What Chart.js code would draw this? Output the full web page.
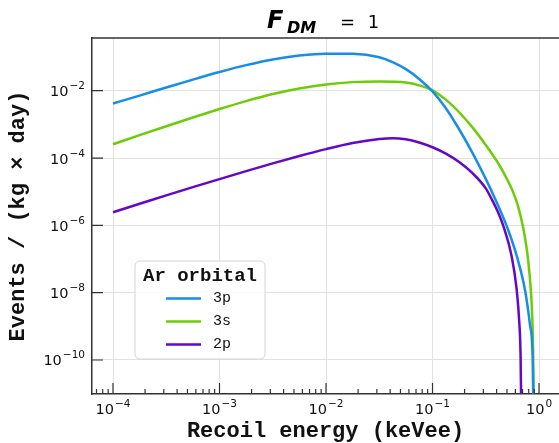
<!DOCTYPE html>
<html>
<head>
<meta charset="utf-8">
<script src="https://cdn.jsdelivr.net/npm/chart.js@4"></script>
<style>
  body { margin: 0; background: #fff; }
  canvas { display: block; }
</style>
</head>
<body>
<canvas id="rateChart" width="559" height="443"></canvas>
<script>
// Taxa de eventos por orbital do argônio (F_DM = 1)
const E_3P = [1e-4, 1.778e-4, 3.162e-4, 5.623e-4, 1e-3, 1.778e-3, 3.162e-3, 5.623e-3, 0.01, 0.01778, 0.03162, 0.04217, 0.05623, 0.07499, 0.1, 0.1334, 0.1778, 0.2371, 0.3162, 0.3981, 0.5012, 0.6166, 0.7413, 0.8222, 0.871, 0.8831];
const RATE_3P = [4.169e-3, 7.161e-3, 1.245e-2, 2.138e-2, 3.589e-2, 5.754e-2, 8.511e-2, 0.1109, 0.1259, 0.1245, 9.886e-2, 7.079e-2, 4.365e-2, 2.239e-2, 9.55e-3, 3.020e-3, 7.161e-4, 1.429e-4, 2.399e-5, 5.012e-6, 8.913e-7, 1.259e-7, 1.122e-8, 1.122e-9, 1.259e-10, 6.31e-12];

const E_3S = [1e-4, 1.778e-4, 3.162e-4, 5.623e-4, 1e-3, 1.778e-3, 3.162e-3, 5.623e-3, 0.01, 0.01778, 0.03162, 0.05623, 0.07499, 0.1, 0.1334, 0.1778, 0.2371, 0.3162, 0.4217, 0.5012, 0.5623, 0.631, 0.7079, 0.7586, 0.7943, 0.8318, 0.861, 0.877, 0.8872, 0.8954];
const RATE_3S = [2.570e-4, 4.786e-4, 8.810e-4, 1.603e-3, 2.851e-3, 4.898e-3, 7.943e-3, 1.161e-2, 1.531e-2, 1.799e-2, 1.884e-2, 1.758e-2, 1.445e-2, 1.023e-2, 5.433e-3, 2.291e-3, 8.128e-4, 2.427e-4, 6.310e-5, 2.344e-5, 1.096e-5, 3.981e-6, 8.913e-7, 2.512e-7, 7.943e-8, 1.585e-8, 2.512e-9, 3.162e-10, 3.162e-11, 3.162e-12];

const E_2P = [1e-4, 1.778e-4, 3.162e-4, 5.623e-4, 1e-3, 1.778e-3, 3.162e-3, 5.623e-3, 0.01, 0.01778, 0.03162, 0.04217, 0.05623, 0.07499, 0.1, 0.1334, 0.1778, 0.2371, 0.3162, 0.3631, 0.40, 0.4624, 0.5534, 0.6166, 0.6531, 0.6714, 0.6792];
const RATE_2P = [2.455e-6, 4.365e-6, 7.762e-6, 1.365e-5, 2.371e-5, 4.074e-5, 6.918e-5, 1.148e-4, 1.841e-4, 2.786e-4, 3.673e-4, 3.890e-4, 3.589e-4, 2.884e-4, 2.089e-4, 1.349e-4, 7.586e-5, 3.548e-5, 1.259e-5, 5.623e-6, 3.020e-6, 9.550e-7, 1.202e-7, 1.259e-8, 1.259e-9, 1.259e-10, 6.31e-12];

const ORBITALS = ['3p', '3s', '2p'];
const COLORS = ['#168ee8', '#6dcc08', '#6408c8'];

// Ticks maiores (expoentes de 10)
const X_TICK_EXPS = [-4, -3, -2, -1, 0];
const Y_TICK_EXPS = [-2, -4, -6, -8, -10];

const X_MIN = 6.35e-5, X_MAX = 1.54;
const Y_MIN = 9.77e-12, Y_MAX = 0.368;

const AXIS_COLOR = '#333';
const TEXT_COLOR = '#111';

function toPoints(xs, ys) {
    return xs.map((x, i) => ({ x: x, y: ys[i] }));
}

function makeDataset(i, xs, ys) {
    return {
        label: ORBITALS[i],
        data: toPoints(xs, ys),
        borderColor: COLORS[i],
        borderWidth: 2.5,
        pointRadius: 0,
        fill: false,
        cubicInterpolationMode: 'monotone'
    };
}

// Rótulo 10^n com expoente sobrescrito
function drawPow(ctx, exp, x, y, align) {
    const base = '10';
    const sup = String(exp).replace('-', '\u2212');
    ctx.font = '14.5px "DejaVu Sans"';
    const wb = ctx.measureText(base).width;
    ctx.font = '10.5px "DejaVu Sans"';
    const ws = ctx.measureText(sup).width;
    const total = wb + ws + 1;
    let x0 = align === 'right' ? x - total : x - total / 2;
    ctx.textAlign = 'left';
    ctx.textBaseline = 'alphabetic';
    ctx.font = '14.5px "DejaVu Sans"';
    ctx.fillText(base, x0, y);
    ctx.font = '10.5px "DejaVu Sans"';
    ctx.fillText(sup, x0 + wb + 1, y - 7);
}

// Ticks internos, rótulos, borda superior, título e legenda
const decorPlugin = {
    id: 'decor',
    afterDraw(chart) {
        const ctx = chart.ctx;
        const area = chart.chartArea;
        const xs = chart.scales.x;
        const ys = chart.scales.y;
        ctx.save();

        // borda superior
        ctx.strokeStyle = AXIS_COLOR;
        ctx.lineWidth = 1.5;
        ctx.beginPath();
        ctx.moveTo(area.left, area.top);
        ctx.lineTo(area.right, area.top);
        ctx.stroke();

        // ticks do eixo x
        ctx.lineWidth = 1.2;
        ctx.beginPath();
        X_TICK_EXPS.forEach(e => {
            const px = xs.getPixelForValue(Math.pow(10, e));
            ctx.moveTo(px, area.bottom);
            ctx.lineTo(px, area.bottom - 11);
        });
        for (let d = -5; d <= 0; d++) {
            for (let m = 2; m <= 9; m++) {
                const v = m * Math.pow(10, d);
                if (v < X_MIN || v > X_MAX) continue;
                const px = xs.getPixelForValue(v);
                ctx.moveTo(px, area.bottom);
                ctx.lineTo(px, area.bottom - 5);
            }
        }
        // ticks do eixo y
        Y_TICK_EXPS.forEach(e => {
            const py = ys.getPixelForValue(Math.pow(10, e));
            ctx.moveTo(area.left, py);
            ctx.lineTo(area.left + 11, py);
        });
        ctx.stroke();

        // rótulos dos ticks
        ctx.fillStyle = TEXT_COLOR;
        X_TICK_EXPS.forEach(e => {
            const px = xs.getPixelForValue(Math.pow(10, e));
            drawPow(ctx, e, px, area.bottom + 19.5, 'center');
        });
        Y_TICK_EXPS.forEach(e => {
            const py = ys.getPixelForValue(Math.pow(10, e));
            drawPow(ctx, e, area.left - 7, py + 5.5, 'right');
        });

        // título F_DM = 1
        ctx.fillStyle = '#000';
        ctx.textAlign = 'left';
        ctx.textBaseline = 'alphabetic';
        ctx.font = 'italic bold 24px "DejaVu Sans"';
        ctx.fillText('F', 267, 28);
        ctx.font = 'italic bold 16px "DejaVu Sans"';
        ctx.fillText('DM', 287, 33);
        ctx.font = '18px "DejaVu Sans"';
        ctx.textAlign = 'center';
        ctx.fillText('=', 347.5, 28);
        ctx.fillText('1', 373.5, 28);

        // legenda
        const lx = 135, ly = 261, lw = 130, lh = 98;
        ctx.beginPath();
        ctx.roundRect(lx, ly, lw, lh, 5);
        ctx.fillStyle = 'rgba(255,255,255,0.85)';
        ctx.fill();
        ctx.strokeStyle = '#d4d4d4';
        ctx.lineWidth = 1;
        ctx.stroke();

        ctx.fillStyle = TEXT_COLOR;
        ctx.textAlign = 'center';
        ctx.textBaseline = 'middle';
        ctx.font = 'bold 19px "Liberation Mono"';
        ctx.fillText('Ar orbital', lx + lw / 2, 276);

        ctx.textAlign = 'left';
        ctx.font = '15px "Liberation Mono"';
        chart.data.datasets.forEach((ds, i) => {
            const y = 298.5 + i * 23;
            ctx.strokeStyle = ds.borderColor;
            ctx.lineWidth = 2.5;
            ctx.beginPath();
            ctx.moveTo(166, y);
            ctx.lineTo(201, y);
            ctx.stroke();
            ctx.fillText(ds.label, 213, y);
        });

        ctx.restore();
    }
};

function initializeChart() {
    const ctx = document.getElementById('rateChart').getContext('2d');
    return new Chart(ctx, {
        type: 'line',
        data: {
            datasets: [
                makeDataset(0, E_3P, RATE_3P),
                makeDataset(1, E_3S, RATE_3S),
                makeDataset(2, E_2P, RATE_2P)
            ]
        },
        options: {
            responsive: false,
            animation: false,
            layout: { padding: { top: 38, right: 0, left: 0, bottom: 0 } },
            scales: {
                x: {
                    type: 'logarithmic',
                    min: X_MIN,
                    max: X_MAX,
                    afterBuildTicks: s => {
                        s.ticks = X_TICK_EXPS.map(e => ({ value: Math.pow(10, e) }));
                        s.min = X_MIN;
                        s.max = X_MAX;
                    },
                    afterFit: s => { s.height = 49; },
                    ticks: { display: false },
                    grid: { color: '#e2e2e2', lineWidth: 1, drawTicks: false },
                    border: { color: AXIS_COLOR, width: 1.5 },
                    title: {
                        display: true,
                        text: 'Recoil energy (keVee)',
                        color: TEXT_COLOR,
                        font: { family: 'Liberation Mono', size: 22, weight: 'bold' },
                        padding: { top: 0, bottom: -2 }
                    }
                },
                y: {
                    type: 'logarithmic',
                    min: Y_MIN,
                    max: Y_MAX,
                    afterBuildTicks: s => {
                        s.ticks = Y_TICK_EXPS.map(e => ({ value: Math.pow(10, e) }));
                        s.min = Y_MIN;
                        s.max = Y_MAX;
                    },
                    afterFit: s => { s.width = 92; },
                    ticks: { display: false },
                    grid: { color: '#e2e2e2', lineWidth: 1, drawTicks: false },
                    border: { color: AXIS_COLOR, width: 1.5 },
                    title: {
                        display: true,
                        text: 'Events / (kg \u00d7 day)',
                        color: TEXT_COLOR,
                        font: { family: 'Liberation Mono', size: 22, weight: 'bold' },
                        padding: { top: 5, bottom: 0 }
                    }
                }
            },
            plugins: {
                legend: { display: false },
                title: { display: false },
                tooltip: { enabled: false }
            }
        },
        plugins: [decorPlugin]
    });
}

document.addEventListener('DOMContentLoaded', () => {
    initializeChart();
});
</script>
</body>
</html>
